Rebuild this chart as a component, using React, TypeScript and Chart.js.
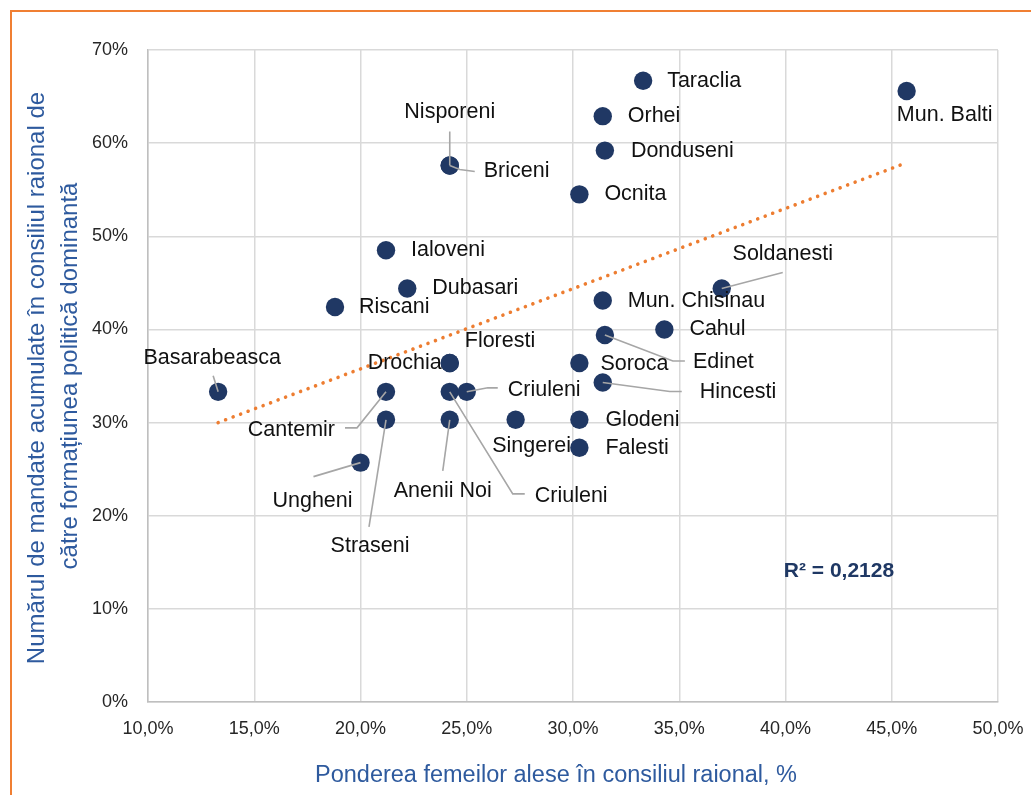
import React, { useEffect, useRef } from 'react';
import { Chart, registerables } from 'chart.js';

Chart.register(...registerables);

// ---------- DATA ----------
const districtNames = [
  'Basarabeasca', 'Taraclia', 'Mun. Balti', 'Orhei', 'Donduseni', 'Nisporeni', 'Briceni',
  'Ocnita', 'Ialoveni', 'Dubasari', 'Riscani', 'Soldanesti', 'Mun. Chisinau', 'Cahul',
  'Edinet', 'Drochia', 'Floresti', 'Soroca', 'Hincesti', 'Cantemir', 'Criuleni', 'Criuleni',
  'Straseni', 'Anenii Noi', 'Singerei', 'Glodeni', 'Falesti', 'Ungheni',
];
// share of women elected in district council, %
const womenShare = [
  13.3, 33.3, 45.7, 31.4, 31.5, 24.2, 24.2,
  30.3, 21.2, 22.2, 18.8, 37.0, 31.4, 34.3,
  31.5, 24.2, 24.2, 30.3, 31.4, 21.2, 24.2, 25.0,
  21.2, 24.2, 27.3, 30.3, 30.3, 20.0,
];
// mandates accumulated by the dominant political formation, %
const mandateShare = [
  33.3, 66.7, 65.6, 62.9, 59.2, 57.6, 57.6,
  54.5, 48.5, 44.4, 42.4, 44.4, 43.1, 40.0,
  39.4, 36.4, 36.4, 36.4, 34.3, 33.3, 33.3, 33.3,
  30.3, 30.3, 30.3, 30.3, 27.3, 25.7,
];
const trendX = [13.3, 45.7];
const trendY = [30.0, 57.9];
const xTickValues = [10, 15, 20, 25, 30, 35, 40, 45, 50];
const yTickValues = [0, 10, 20, 30, 40, 50, 60, 70];
const rSquaredText = 'R² = 0,2128';
const xTitle = 'Ponderea femeilor alese în consiliul raional, %';
const yTitleLines = [
  'Numărul de mandate acumulate în consiliul raional de',
  'către formațiunea politică dominantă',
];

// ---------- LABEL LAYOUT (pixel offsets from each point) ----------
type Lay = { dx: number; dy: number; align: CanvasTextAlign; leader?: number[][] };
const labelLayout: Lay[] = [
  { dx: -6, dy: -34, align: 'center', leader: [[-5, -16], [0, 0]] },
  { dx: 24, dy: 0, align: 'left' },
  { dx: 38, dy: 24, align: 'center' },
  { dx: 25, dy: 0, align: 'left' },
  { dx: 26, dy: 0, align: 'left' },
  { dx: 0, dy: -53, align: 'center', leader: [[0, -34], [0, 0]] },
  { dx: 34, dy: 6, align: 'left', leader: [[25, 6], [10, 4], [0, 0]] },
  { dx: 25, dy: 0, align: 'left' },
  { dx: 25, dy: 0, align: 'left' },
  { dx: 25, dy: 0, align: 'left' },
  { dx: 24, dy: 0, align: 'left' },
  { dx: 61, dy: -34, align: 'center', leader: [[61, -16], [0, 0]] },
  { dx: 25, dy: 1, align: 'left' },
  { dx: 25, dy: 0, align: 'left' },
  { dx: 88, dy: 27, align: 'left', leader: [[80, 26], [68, 26], [0, 0]] },
  { dx: -8, dy: 0, align: 'right' },
  { dx: 15, dy: -22, align: 'left' },
  { dx: 21, dy: 1, align: 'left' },
  { dx: 97, dy: 10, align: 'left', leader: [[79, 9], [67, 9], [0, 0]] },
  { dx: -51, dy: 38, align: 'right', leader: [[-41, 36], [-29, 36], [0, 0]] },
  { dx: 85, dy: 104, align: 'left', leader: [[75, 102], [63, 102], [0, 0]] },
  { dx: 41, dy: -2, align: 'left', leader: [[31, -4], [21, -4], [0, 0]] },
  { dx: -16, dy: 126, align: 'center', leader: [[-17, 107], [0, 0]] },
  { dx: -7, dy: 71, align: 'center', leader: [[-7, 51], [0, 0]] },
  { dx: 16, dy: 26, align: 'center' },
  { dx: 26, dy: 0, align: 'left' },
  { dx: 26, dy: 0, align: 'left' },
  { dx: -48, dy: 38, align: 'center', leader: [[-47, 14], [0, 0]] },
];

const FONT = '"Liberation Sans", Arial, sans-serif';
const TITLE_COLOR = '#2E5A9E';

const annotationPlugin = {
  id: 'annotations',
  afterDatasetsDraw(chart: any) {
    const ctx: CanvasRenderingContext2D = chart.ctx;
    const meta = chart.getDatasetMeta(0);
    ctx.save();
    meta.data.forEach((el: any, i: number) => {
      const { x, y } = el.getProps(['x', 'y'], true);
      const L = labelLayout[i];
      if (L.leader) {
        ctx.beginPath();
        ctx.strokeStyle = '#A6A6A6';
        ctx.lineWidth = 1.6;
        L.leader.forEach(([dx, dy], k) => {
          if (k === 0) ctx.moveTo(x + dx, y + dy);
          else ctx.lineTo(x + dx, y + dy);
        });
        ctx.stroke();
      }
      ctx.fillStyle = '#111111';
      ctx.font = `21.5px ${FONT}`;
      ctx.textAlign = L.align;
      ctx.textBaseline = 'middle';
      ctx.fillText(districtNames[i], x + L.dx, y + L.dy);
    });

    // R squared
    ctx.fillStyle = '#1F3864';
    ctx.font = `bold 21px ${FONT}`;
    ctx.textAlign = 'center';
    ctx.textBaseline = 'middle';
    ctx.fillText(rSquaredText, 839, 571);

    // axis titles
    ctx.fillStyle = TITLE_COLOR;
    ctx.font = `23.5px ${FONT}`;
    ctx.fillText(xTitle, 556, 776);

    ctx.font = `24px ${FONT}`;
    ctx.save();
    ctx.translate(37, 378);
    ctx.rotate(-Math.PI / 2);
    ctx.fillText(yTitleLines[0], 0, 0);
    ctx.restore();
    ctx.save();
    ctx.translate(70, 376);
    ctx.rotate(-Math.PI / 2);
    ctx.fillText(yTitleLines[1], 0, 0);
    ctx.restore();

    ctx.restore();
  },
};

export default function App() {
  const canvasRef = useRef<HTMLCanvasElement | null>(null);

  useEffect(() => {
    if (!canvasRef.current) return;
    const points = womenShare.map((x, i) => ({ x, y: mandateShare[i] }));
    const trend = trendX.map((x, i) => ({ x, y: trendY[i] }));
    const chart = new Chart(canvasRef.current, {
      type: 'scatter',
      data: {
        datasets: [
          {
            label: 'points',
            data: points,
            backgroundColor: '#203864',
            borderWidth: 0,
            pointRadius: 9.2,
            pointHoverRadius: 9.2,
            order: 1,
          },
          {
            label: 'trend',
            data: trend,
            showLine: true,
            borderColor: '#ED7D31',
            borderWidth: 3.6,
            borderDash: [0.01, 8],
            borderCapStyle: 'round',
            pointRadius: 0,
            fill: false,
            order: 2,
          } as any,
        ],
      },
      options: {
        responsive: false,
        animation: false,
        layout: { padding: { left: 0, top: 50, right: 33, bottom: 0 } },
        plugins: {
          legend: { display: false },
          tooltip: { enabled: false },
          title: { display: false },
        },
        scales: {
          x: {
            type: 'linear',
            min: 10,
            max: 50,
            afterBuildTicks: (s: any) => {
              s.ticks = xTickValues.map((v) => ({ value: v }));
            },
            afterFit: (s: any) => {
              s.height = 93;
              s.paddingLeft = 0;
              s.paddingRight = 0;
            },
            ticks: {
              autoSkip: false,
              maxRotation: 0,
              padding: 16,
              color: '#262626',
              font: { family: FONT, size: 18 },
              callback: (v: any) => Number(v).toFixed(1).replace('.', ',') + '%',
            },
            grid: { color: '#D9D9D9', lineWidth: 1.5, drawTicks: false },
            border: { display: true, color: '#BFBFBF', width: 1.5 },
          },
          y: {
            type: 'linear',
            min: 0,
            max: 70,
            afterBuildTicks: (s: any) => {
              s.ticks = yTickValues.map((v) => ({ value: v }));
            },
            afterFit: (s: any) => {
              s.width = 148;
              s.paddingTop = 0;
              s.paddingBottom = 0;
            },
            ticks: {
              autoSkip: false,
              padding: 20,
              color: '#262626',
              font: { family: FONT, size: 18 },
              callback: (v: any) => v + '%',
            },
            grid: { color: '#D9D9D9', lineWidth: 1.5, drawTicks: false },
            border: { display: true, color: '#BFBFBF', width: 1.5 },
          },
        },
      },
      plugins: [annotationPlugin],
    });
    return () => chart.destroy();
  }, []);

  return (
    <div
      style={{
        position: 'fixed',
        left: 0,
        top: 0,
        width: 1031,
        height: 795,
        overflow: 'hidden',
        background: '#ffffff',
      }}
    >
      <div
        style={{
          position: 'absolute',
          left: 10,
          top: 10,
          width: 1200,
          height: 1000,
          border: '2px solid #F07F33',
          boxSizing: 'border-box',
        }}
      />
      <canvas
        ref={canvasRef}
        width={1031}
        height={795}
        style={{ position: 'absolute', left: 0, top: 0, width: 1031, height: 795 }}
      />
    </div>
  );
}
